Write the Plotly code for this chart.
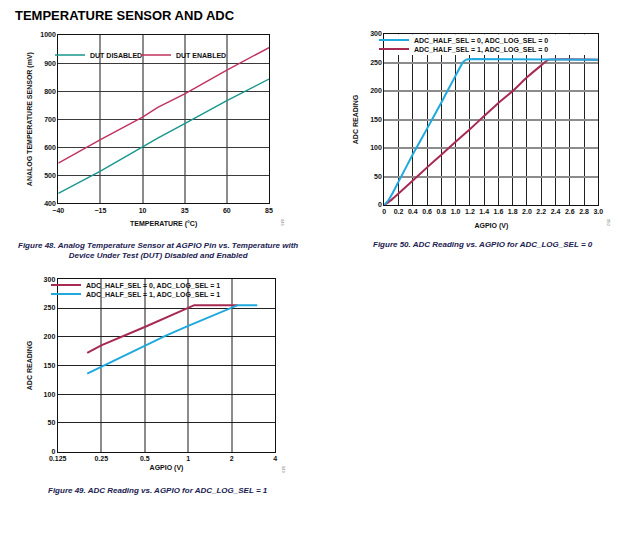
import plotly.graph_objects as go

# ---------------- data ----------------
# Figure 48: analog temperature sensor
temp_c = [-40, -15, 10, 19, 35, 60, 85]
dut_disabled_mv = [435, 515, 601, 632, 684, 766, 843]
dut_enabled_mv = [543, 627, 707, 742, 790, 875, 955]

# Figure 50: ADC reading vs AGPIO, ADC_LOG_SEL = 0
agpio_lin_half0 = [0, 0.05, 0.1, 0.2, 0.4, 0.6, 0.8, 1.0, 1.1, 1.15, 1.25, 3.0]
adc_lin_half0 = [0, 7, 17, 41, 89, 134, 180, 227, 250, 255, 256, 255]
agpio_lin_half1 = [0, 0.1, 0.2, 0.4, 0.6, 0.8, 1.0, 1.2, 1.4, 1.6, 1.8, 2.0, 2.2, 2.3, 3.0]
adc_lin_half1 = [0, 9, 20, 43, 66, 88, 111, 133, 156, 179, 200, 224, 245, 255, 255]

# Figure 49: ADC reading vs AGPIO, ADC_LOG_SEL = 1
agpio_log_half0 = [0.2, 0.25, 0.5, 0.7, 1.0, 1.1, 2.2]
adc_log_half0 = [172, 185, 217, 233, 250, 255, 255]
agpio_log_half1 = [0.2, 0.25, 0.5, 0.7, 1.0, 2.0, 2.2, 3.0]
adc_log_half1 = [136, 148, 185, 202, 219, 250, 255, 255]

# tick labels
t_ticks = [-40, -15, 10, 35, 60, 85]
t_ticktext = ["\u221240", "\u221215", "10", "35", "60", "85"]
mv_ticks = [400, 500, 600, 700, 800, 900, 1000]
lin_x_ticks = [round(0.2 * i, 1) for i in range(16)]
lin_x_ticktext = ["0"] + ["%.1f" % v for v in lin_x_ticks[1:]]
adc_ticks = [0, 50, 100, 150, 200, 250, 300]
log_x_ticks = [0.125, 0.25, 0.5, 1, 2, 4]
log_x_ticktext = ["0.125", "0.25", "0.5", "1", "2", "4"]

# ---------------- style ----------------
W, H = 629, 540
FONT = "Liberation Sans"
TEAL = "#17978d"
ROSE = "#c1325d"
BLUE = "#1fa9de"
MAROON = "#a72a52"
CAP_COLOR = "#1b2150"

def px_x(p):
    return p / W

def px_y(p):
    return 1 - p / H

fig = go.Figure()

fig.add_trace(go.Scatter(x=temp_c, y=dut_disabled_mv, mode="lines", name="DUT DISABLED",
                         line=dict(color=TEAL, width=1.4), xaxis="x", yaxis="y", legend="legend"))
fig.add_trace(go.Scatter(x=temp_c, y=dut_enabled_mv, mode="lines", name="DUT ENABLED",
                         line=dict(color=ROSE, width=1.4), xaxis="x", yaxis="y", legend="legend2"))

fig.add_trace(go.Scatter(x=agpio_lin_half1, y=adc_lin_half1, mode="lines",
                         name="ADC_HALF_SEL = 1, ADC_LOG_SEL = 0",
                         line=dict(color=MAROON, width=2, shape="spline", smoothing=0.3),
                         xaxis="x2", yaxis="y2", legend="legend4"))
fig.add_trace(go.Scatter(x=agpio_lin_half0, y=adc_lin_half0, mode="lines",
                         name="ADC_HALF_SEL = 0, ADC_LOG_SEL = 0",
                         line=dict(color=BLUE, width=2, shape="spline", smoothing=0.3),
                         xaxis="x2", yaxis="y2", legend="legend3"))

fig.add_trace(go.Scatter(x=agpio_log_half0, y=adc_log_half0, mode="lines",
                         name="ADC_HALF_SEL = 0, ADC_LOG_SEL = 1",
                         line=dict(color=MAROON, width=2),
                         xaxis="x3", yaxis="y3", legend="legend5"))
fig.add_trace(go.Scatter(x=agpio_log_half1, y=adc_log_half1, mode="lines",
                         name="ADC_HALF_SEL = 1, ADC_LOG_SEL = 1",
                         line=dict(color=BLUE, width=2),
                         xaxis="x3", yaxis="y3", legend="legend6"))

tickfont = dict(family=FONT, size=7, color="#111", weight="bold")
titlefont = dict(family=FONT, size=7, color="#111", weight="bold")

def axis(**kw):
    base = dict(showline=True, mirror=True, linecolor="#111", linewidth=1,
                ticks="", tickfont=tickfont, zeroline=False, fixedrange=True,
                automargin=False)
    base.update(kw)
    return base

layout = dict(
    width=W, height=H, margin=dict(l=0, r=0, t=0, b=0, autoexpand=False),
    paper_bgcolor="white", plot_bgcolor="white",
    font=dict(family=FONT), showlegend=True,
    xaxis=axis(domain=[px_x(58.3), px_x(269)], range=[-40, 85], tickvals=t_ticks,
               ticktext=t_ticktext, showgrid=True, gridcolor="#8c8c8c", gridwidth=2,
               title=dict(text="TEMPERATURE (\u00b0C)", font=titlefont, standoff=8), anchor="y"),
    yaxis=axis(domain=[px_y(203.3), px_y(35)], range=[400, 1000], tickvals=mv_ticks,
               showgrid=True, gridcolor="#3a3a3a", gridwidth=1,
               title=dict(text="ANALOG TEMPERATURE SENSOR (mV)", font=titlefont, standoff=6), anchor="x"),
    xaxis2=axis(domain=[px_x(384.3), px_x(598.3)], range=[0, 3.0], tickvals=lin_x_ticks,
                ticktext=lin_x_ticktext, showgrid=True, gridcolor="#222", gridwidth=1.3,
                title=dict(text="AGPIO (V)", font=titlefont, standoff=8), anchor="y2"),
    yaxis2=axis(domain=[px_y(205), px_y(34)], range=[0, 300], tickvals=adc_ticks,
                showgrid=True, gridcolor="#8c8c8c", gridwidth=2,
                title=dict(text="ADC READING", font=titlefont, standoff=10), anchor="x2"),
    xaxis3=axis(domain=[px_x(57.7), px_x(275.3)], type="log", range=[-0.90309, 0.60206],
                tickvals=log_x_ticks, ticktext=log_x_ticktext, showgrid=True,
                gridcolor="#8c8c8c", gridwidth=2,
                title=dict(text="AGPIO (V)", font=titlefont, standoff=4), anchor="y3"),
    yaxis3=axis(domain=[px_y(451.7), px_y(279.3)], range=[0, 300], tickvals=adc_ticks,
                showgrid=True, gridcolor="#222", gridwidth=1,
                title=dict(text="ADC READING", font=titlefont, standoff=10), anchor="x3"),
)

legfont = dict(family=FONT, size=7, color="#111", weight="bold")

def leg(xp, yp):
    return dict(x=px_x(xp), y=px_y(yp), xanchor="left", yanchor="middle",
                bgcolor="rgba(0,0,0,0)", borderwidth=0, font=legfont, visible=True,
                itemclick=False, itemdoubleclick=False)

layout["legend"] = leg(50, 55)
layout["legend2"] = leg(136, 55)
layout["legend3"] = leg(374, 40)
layout["legend4"] = leg(374, 49)
layout["legend5"] = leg(46, 285)
layout["legend6"] = leg(46, 294)

fig.update_layout(**layout)

# white band under the legend of Figure 50 (grid lines stop below it)
fig.add_shape(type="rect", xref="x2", yref="y2", x0=0, x1=3.0, y0=263, y1=299.5,
              fillcolor="white", line=dict(width=0), layer="between")

capfont = dict(family=FONT, size=8, color=CAP_COLOR, weight="bold", style="italic")
annos = [
    dict(text="<b>TEMPERATURE SENSOR AND ADC</b>", x=px_x(13), y=px_y(15),
         xanchor="left", yanchor="middle", font=dict(family=FONT, size=13, color="#000")),
    dict(text="Figure 48. Analog Temperature Sensor at AGPIO Pin vs. Temperature with<br>"
              "Device Under Test (DUT) Disabled and Enabled",
         x=px_x(158), y=px_y(250), xanchor="center", yanchor="middle", font=capfont),
    dict(text="Figure 50. ADC Reading vs. AGPIO for ADC_LOG_SEL = 0",
         x=px_x(483), y=px_y(244), xanchor="center", yanchor="middle", font=capfont),
    dict(text="Figure 49. ADC Reading vs. AGPIO for ADC_LOG_SEL = 1",
         x=px_x(158), y=px_y(490), xanchor="center", yanchor="middle", font=capfont),
    dict(text="046", x=px_x(283), y=px_y(222), textangle=90, xanchor="center", yanchor="middle",
         font=dict(family=FONT, size=4, color="#777")),
    dict(text="050", x=px_x(609), y=px_y(222), textangle=90, xanchor="center", yanchor="middle",
         font=dict(family=FONT, size=4, color="#777")),
    dict(text="049", x=px_x(284), y=px_y(469), textangle=90, xanchor="center", yanchor="middle",
         font=dict(family=FONT, size=4, color="#777")),
]
for a in annos:
    a.update(xref="paper", yref="paper", showarrow=False)
    fig.add_annotation(**a)

fig.write_html("out.html", config={"displayModeBar": False},
               post_script="document.body.style.margin='0';document.body.style.overflow='hidden';")
